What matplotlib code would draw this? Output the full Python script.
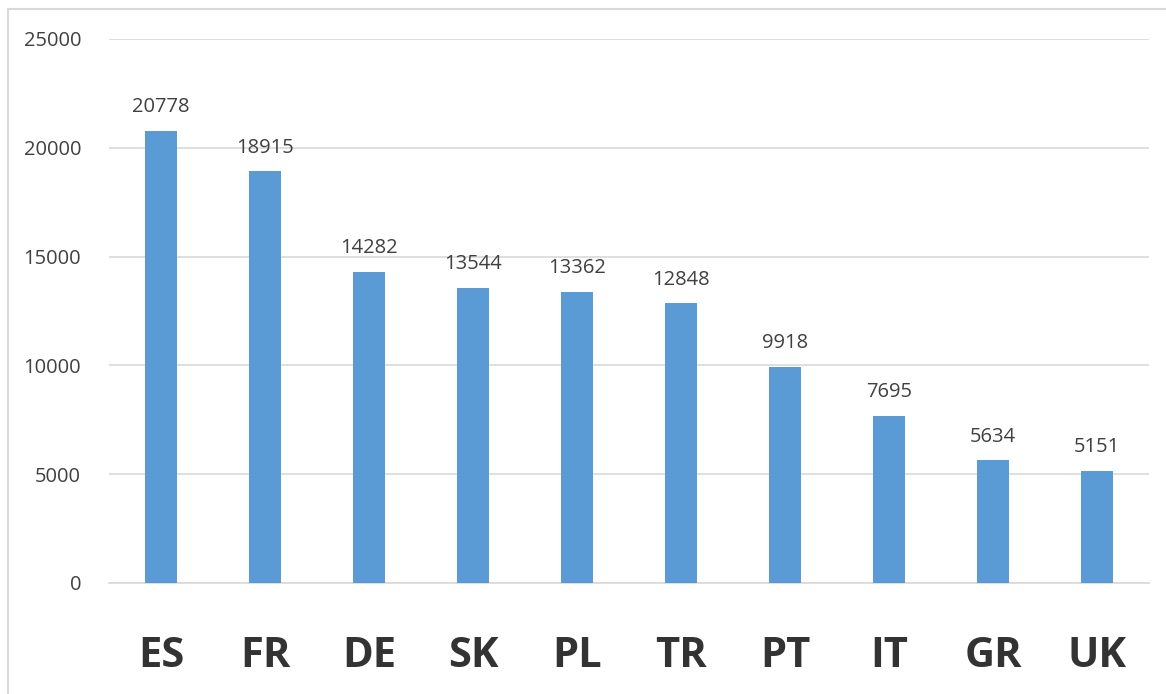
import matplotlib.pyplot as plt
from matplotlib.patches import Rectangle

countries = ['ES', 'FR', 'DE', 'SK', 'PL', 'TR', 'PT', 'IT', 'GR', 'UK']
values = [20778, 18915, 14282, 13544, 13362, 12848, 9918, 7695, 5634, 5151]
yticks = [0, 5000, 10000, 15000, 20000, 25000]

W, H = 1166, 694
fig = plt.figure(figsize=(W / 100, H / 100), dpi=100)
ax = fig.add_axes([109 / W, 1 - 583 / H, 1040 / W, 544 / H])

# chart frame (only top/left edges visible in the crop)
fig.patches.append(Rectangle((8 / W, -0.1), 1.2, 1 - 9 / H + 0.1, transform=fig.transFigure,
                             fill=False, edgecolor='#d9d9d9', linewidth=1.5))

x = range(len(countries))
bars = ax.bar(x, values, width=0.31, color='#5b9bd5', zorder=3)

for b, v in zip(bars, values):
    ax.annotate(str(v), (b.get_x() + b.get_width() / 2, v), xytext=(0, 10),
                textcoords='offset points', ha='center', va='bottom',
                fontsize=14.5, color='#404040', family='Open Sans')

ax.set_xlim(-0.5, len(countries) - 0.5)
ax.set_ylim(0, 25000)
ax.set_yticks(yticks)
ax.set_yticklabels([str(t) for t in yticks], fontsize=14.5, color='#404040', family='Open Sans')
ax.yaxis.grid(True, color='#d9d9d9', linewidth=1.2, zorder=0)
ax.tick_params(axis='y', length=0, pad=20)
ax.tick_params(axis='x', length=0, pad=38)
ax.set_xticks(list(x))
ax.set_xticklabels(countries, fontsize=30, fontweight='bold', color='#333333', family='Open Sans')
for s in ['top', 'right', 'left']:
    ax.spines[s].set_visible(False)
ax.spines['bottom'].set_color('#d9d9d9')
ax.spines['bottom'].set_linewidth(1.2)

fig.savefig('out.png', dpi=100)
